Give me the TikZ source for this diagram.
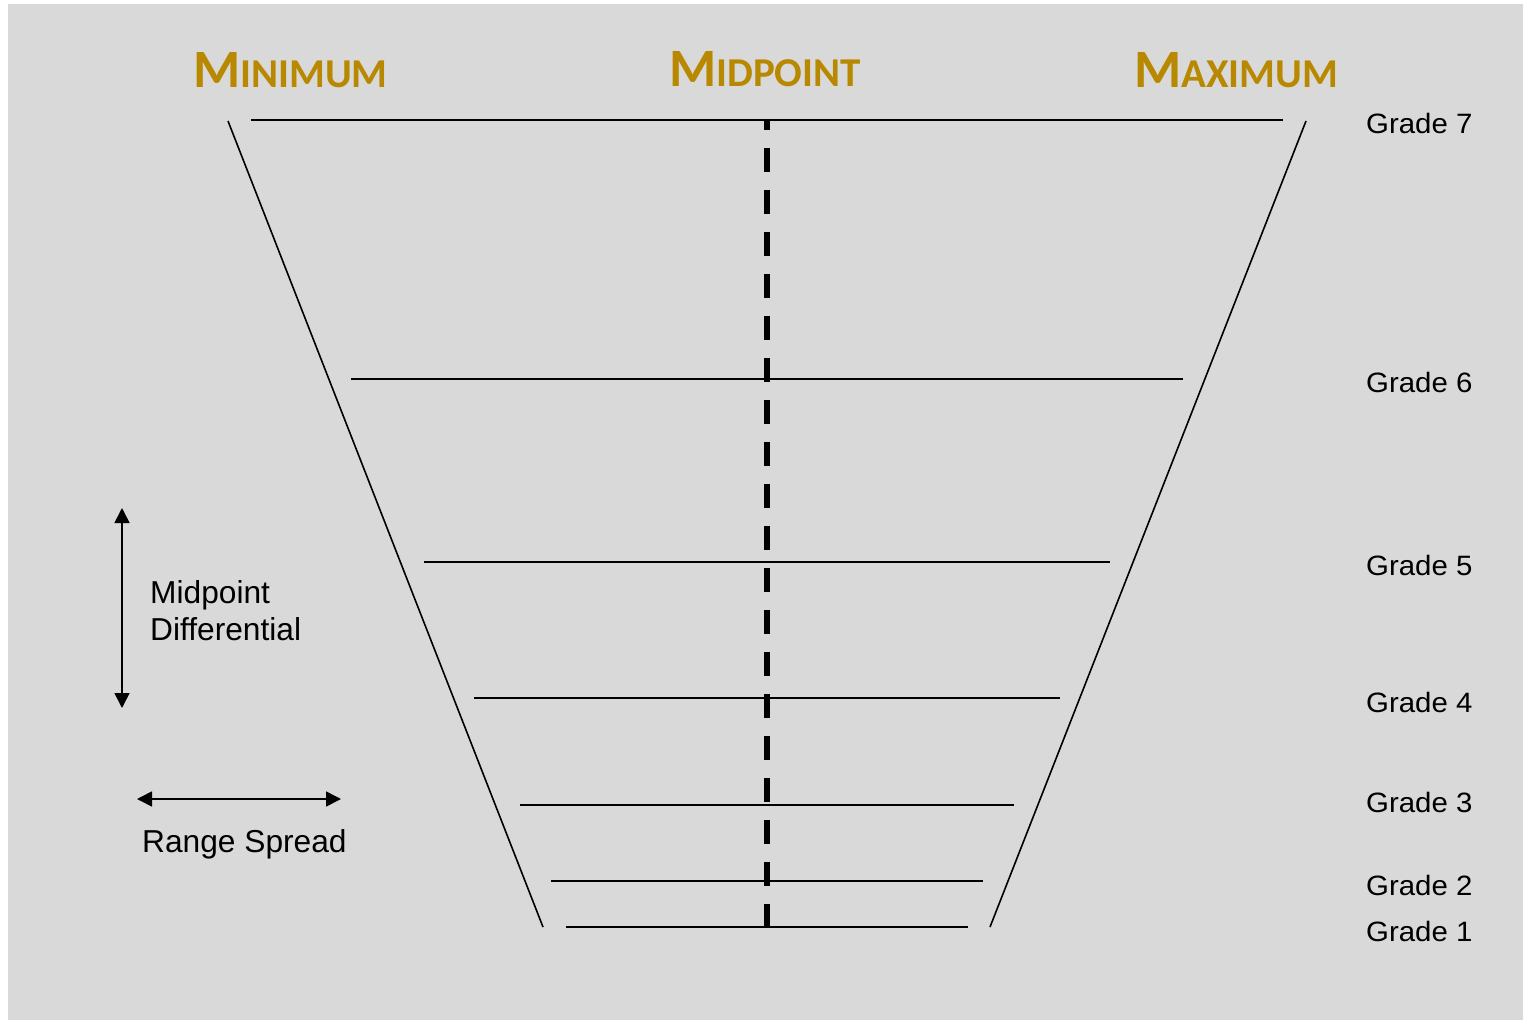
\documentclass[tikz,border=0pt]{standalone}
\usepackage{fontspec}
\setmainfont{Liberation Sans}
\newfontfamily\titlefont{Carlito}
\newfontfamily\gradefont[FakeStretch=1.05]{Liberation Sans}
\usetikzlibrary{arrows.meta}
\definecolor{bgray}{RGB}{217,217,217}
\definecolor{gold}{RGB}{184,137,0}
\begin{document}
\begin{tikzpicture}[x=1pt,y=-1pt,
  thinline/.style={line width=1.6pt,black},
  midline/.style={line width=5.5pt,black,dash pattern=on 24pt off 18pt,dash phase=14.5pt},
  dblarrow/.style={line width=1.6pt,{Triangle[length=15pt,width=15pt]}-{Triangle[length=15pt,width=15pt]}},
  title/.style={anchor=base west,inner sep=0pt,text=gold,font=\titlefont\bfseries},
  grade/.style={anchor=base west,inner sep=0pt,font=\gradefont\fontsize{28}{32}\selectfont},
  lbl/.style={anchor=base west,inner sep=0pt,font=\fontsize{31.7}{37}\selectfont,align=left}]
\useasboundingbox (0,0) rectangle (1526,1020);
\fill[white] (0,0) rectangle (1526,1020);
\fill[bgray] (8,4) rectangle (1523,1020);

% titles
\node[title] (tmin) at (193,87) {\fontsize{54}{60}\selectfont M\fontsize{41}{48}\selectfont INIMUM};
\node[title] (tmid) at (669,86) {\fontsize{54}{60}\selectfont M\fontsize{41}{48}\selectfont IDPOINT};
\node[title] (tmax) at (1134,87) {\fontsize{54}{60}\selectfont M\fontsize{41}{48}\selectfont AXIMUM};

% slanted sides
\coordinate (lt) at (228,121);
\coordinate (lb) at (543,927);
\coordinate (rt) at (1306,121);
\coordinate (rb) at (990,927);
\draw[thinline] (lt) -- (lb);
\draw[thinline] (rt) -- (rb);

% grade lines
\coordinate (g7a) at (251,120);  \coordinate (g7b) at (1283,120);
\coordinate (g6a) at (351,379);  \coordinate (g6b) at (1183,379);
\coordinate (g5a) at (424,562);  \coordinate (g5b) at (1110,562);
\coordinate (g4a) at (474,698);  \coordinate (g4b) at (1060,698);
\coordinate (g3a) at (520,805);  \coordinate (g3b) at (1014,805);
\coordinate (g2a) at (551,881);  \coordinate (g2b) at (983,881);
\coordinate (g1a) at (566,927);  \coordinate (g1b) at (968,927);
\foreach \g in {1,...,7} {\draw[thinline] (g\g a) -- (g\g b);}

% midpoint dashed line
\coordinate (mtop) at (767,120);
\coordinate (mbot) at (767,927);
\draw[midline] (mtop) -- (mbot);

% grade labels
\node[grade] (l7) at (1366,133) {Grade 7};
\node[grade] (l6) at (1366,392) {Grade 6};
\node[grade] (l5) at (1366,575) {Grade 5};
\node[grade] (l4) at (1366,712) {Grade 4};
\node[grade] (l3) at (1366,812) {Grade 3};
\node[grade] (l2) at (1366,895) {Grade 2};
\node[grade] (l1) at (1366,941) {Grade 1};

% legend arrows
\coordinate (va) at (122,508);
\coordinate (vb) at (122,708);
\draw[dblarrow] (va) -- (vb);
\coordinate (ha) at (137,799);
\coordinate (hb) at (341,799);
\draw[dblarrow] (ha) -- (hb);

\node[lbl] (md1) at (150,603) {Midpoint};
\node[lbl] (md2) at (150,640) {Differential};
\node[lbl] (rs) at (142,852) {Range Spread};
\end{tikzpicture}
\end{document}
